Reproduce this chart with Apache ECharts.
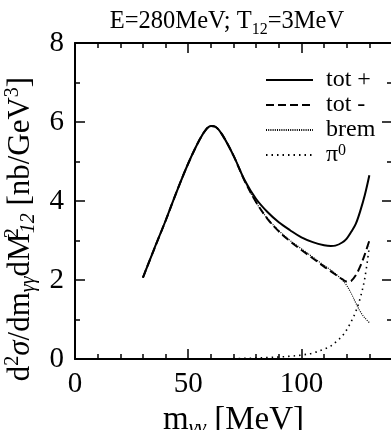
<!DOCTYPE html>
<html>
<head>
<meta charset="utf-8">
<script src="https://cdn.jsdelivr.net/npm/echarts@6/dist/echarts.min.js"></script>
<style>
html,body{margin:0;padding:0;background:#fff;}
#chart{width:391px;height:430px;}
</style>
</head>
<body>
<div id="chart"></div>
<script>
// ---- data ----
var mGG = [30,35,40,45,50,55,58,60,62,65,70,75,80,85,90,95,100,105,110,113,115,118,120,122,124,126,128,130];
var totPlus = [2.06,2.79,3.50,4.25,4.95,5.55,5.82,5.90,5.88,5.68,5.15,4.52,4.05,3.72,3.46,3.26,3.08,2.96,2.88,2.86,2.87,2.95,3.05,3.22,3.42,3.75,4.15,4.65];
var totMinus = [2.06,2.79,3.50,4.25,4.95,5.55,5.82,5.90,5.88,5.68,5.15,4.50,3.97,3.55,3.23,2.98,2.76,2.55,2.34,2.22,2.14,2.02,1.96,1.98,2.12,2.35,2.65,3.00];
var brem = [2.06,2.79,3.50,4.25,4.95,5.55,5.82,5.90,5.88,5.68,5.15,4.50,3.96,3.56,3.25,3.00,2.79,2.58,2.37,2.25,2.16,2.00,1.86,1.66,1.42,1.20,1.04,0.92];
var pi0 = [null,null,null,null,null,null,null,null,null,0.0,0.01,0.015,0.025,0.035,0.05,0.07,0.10,0.15,0.25,0.33,0.42,0.58,0.74,0.95,1.20,1.55,2.05,2.85];
var seriesNames = ['tot +','tot -','brem','π0'];
var xTicks = [0,50,100];
var yTicks = [0,2,4,6,8];

var FONT = '"Liberation Serif","DejaVu Serif",serif';
function pairs(ys){ var out=[]; for(var i=0;i<mGG.length;i++){ if(ys[i]!==null) out.push([mGG[i], ys[i]]); } return out; }

var chart = echarts.init(document.getElementById('chart'), null, {renderer:'canvas'});
var tickStyle = {color:'#000', width:1.5};
var axisLineStyle = {color:'#000', width:2};
function xAx(pos, labels){
  return {
    type:'value', min:0, max:140, interval:50, position:pos,
    axisLine:{show:true, onZero:false, lineStyle:axisLineStyle},
    axisTick:{show:true, inside:true, length:10, lineStyle:tickStyle},
    minorTick:{show:true, splitNumber:5, length:5, lineStyle:tickStyle},
    splitLine:{show:false}, minorSplitLine:{show:false},
    axisLabel:{show:labels, fontSize:29, fontFamily:FONT, color:'#000', margin:11, showMaxLabel:false,
      formatter:function(v){ return xTicks.indexOf(v)>=0 ? String(v) : ''; }},
    name: labels ? '{m|m}{s|γγ}{m| [MeV]}' : '',
    nameLocation:'middle', nameGap:35,
    nameTextStyle:{ rich:{
      m:{fontSize:33, fontFamily:FONT, color:'#000', lineHeight:38},
      s:{fontSize:22, fontFamily:FONT, fontStyle:'italic', color:'#000', verticalAlign:'bottom', lineHeight:20}
    }}
  };
}
function yAx(pos, labels){
  return {
    type:'value', min:0, max:8, interval:2, position:pos,
    axisLine:{show:true, onZero:false, lineStyle:axisLineStyle},
    axisTick:{show:true, inside:true, length:10, lineStyle:tickStyle},
    minorTick:{show:true, splitNumber:2, length:5, lineStyle:tickStyle},
    splitLine:{show:false}, minorSplitLine:{show:false},
    axisLabel:{show:labels, fontSize:29, fontFamily:FONT, color:'#000', margin:11,
      formatter:function(v){ return yTicks.indexOf(v)>=0 ? String(v) : ''; }},
    name: labels ? '{m|d}{p|2}{i|σ}{m|/dm}{s|γγ}{m|dM}{pw|2}{s|12}{m| [nb/GeV}{p|3}{m|]}' : '',
    nameLocation:'middle', nameGap:36, nameRotate:90,
    nameTextStyle:{ padding:[0,56,0,0], rich:{
      m:{fontSize:31, fontFamily:FONT, color:'#000', lineHeight:36},
      i:{fontSize:31, fontFamily:FONT, fontStyle:'italic', color:'#000', lineHeight:36},
      p:{fontSize:20, fontFamily:FONT, color:'#000', verticalAlign:'top', lineHeight:18},
      pw:{fontSize:20, fontFamily:FONT, color:'#000', verticalAlign:'top', lineHeight:18, width:0.01},
      s:{fontSize:20, fontFamily:FONT, fontStyle:'italic', color:'#000', verticalAlign:'bottom', lineHeight:20}
    }}
  };
}

var styles = [
  {type:'solid', width:2},
  {type:[8,4], width:2},
  {type:[1,1.2], width:1.2},
  {type:[1.5,4], width:1.6}
];
var dataSets = [totPlus, totMinus, brem, pi0];
var series = dataSets.map(function(d,i){
  return {
    name: seriesNames[i], type:'line', data: pairs(d), xAxisIndex:0, yAxisIndex:0,
    showSymbol:false, symbol:'none', smooth:0.35, animation:false, z: 10-i,
    itemStyle:{color:'#000'},
    lineStyle:{color:'#000', width:styles[i].width, type:styles[i].type}
  };
});

chart.setOption({
  animation:false,
  backgroundColor:'#fff',
  title:{
    text:'{m|E=280MeV; T}{s|12}{m|=3MeV}', left:222, top:1, textAlign:'center',
    textStyle:{ fontWeight:'normal', rich:{
      m:{fontSize:24.5, fontFamily:FONT, fontWeight:'normal', color:'#000', lineHeight:32},
      s:{fontSize:16, fontFamily:FONT, fontWeight:'normal', color:'#000', verticalAlign:'bottom', lineHeight:16}
    }}
  },
  legend:{
    orient:'vertical', left:260, top:63, itemWidth:47, itemHeight:14, itemGap:1,
    data: seriesNames,
    itemStyle:{opacity:0},
    formatter:function(n){ return n==='π0' ? '{m|π}{p|0}' : '{m|'+n+'}'; },
    textStyle:{ padding:[0,0,0,8], rich:{
      m:{fontSize:24, fontFamily:FONT, color:'#000', lineHeight:24},
      p:{fontSize:16, fontFamily:FONT, color:'#000', verticalAlign:'top', lineHeight:14}
    }}
  },
  grid:{left:75, top:43, width:317, height:316, containLabel:false, outerBoundsMode:'none'},
  xAxis:[xAx('bottom', true), xAx('top', false)],
  yAxis:[yAx('left', true), yAx('right', false)],
  series: series
});
</script>
</body>
</html>
